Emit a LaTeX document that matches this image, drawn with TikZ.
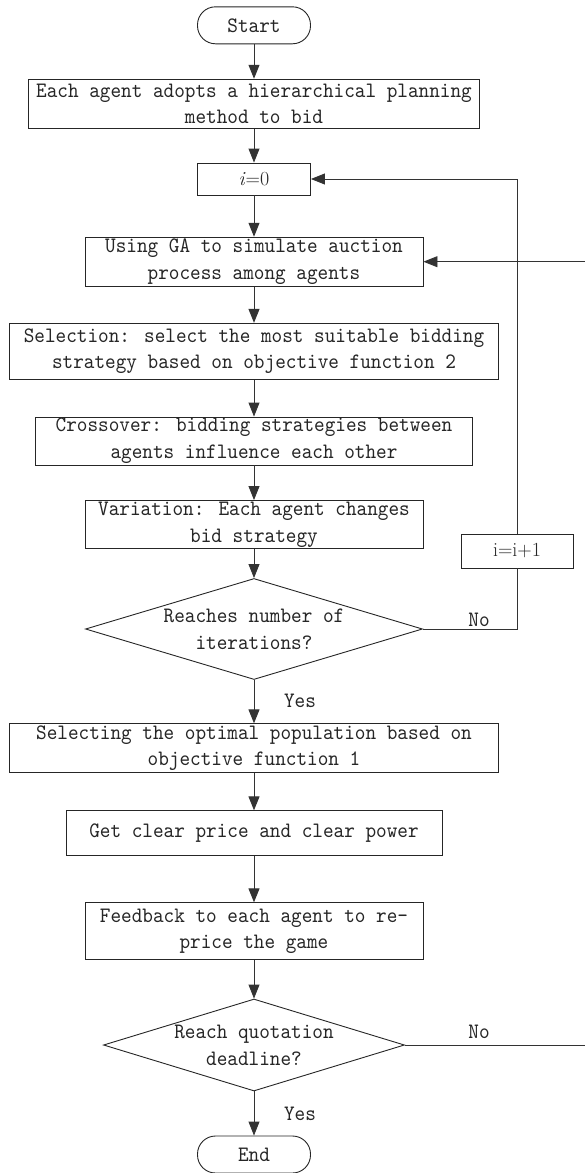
\documentclass[tikz,border=0pt]{standalone}
\usepackage{fontspec}
\usetikzlibrary{arrows.meta,shapes.geometric}

% narrow monospaced face for all box texts
\newfontfamily\boxfont{lmmono10-regular.otf}[FakeStretch=0.92]

\tikzset{
  base/.style={draw=black!85, line width=0.9pt, fill=white, text=black!85,
    font=\boxfont\fontsize{22}{26.7}\selectfont, align=center, inner sep=0pt},
  proc/.style={base, rectangle},
  term/.style={base, rectangle, rounded corners=18pt},
  decision/.style={base, diamond, inner sep=-10pt},
  counter/.style={proc, font=\rmfamily\fontsize{20}{24}\selectfont},
  flow/.style={draw=black!80, line width=0.9pt, -{Triangle[length=14pt,width=11pt]}},
  link/.style={draw=black!80, line width=0.9pt},
  tag/.style={text=black!85, inner sep=0pt, font=\boxfont\fontsize{22}{24}\selectfont}
}

\begin{document}
\begin{tikzpicture}[x=1pt, y=-1pt]
  \useasboundingbox (0,0) rectangle (585,1173);

  % main column
  \node[term, minimum width=113pt, minimum height=37pt] (start) at (254,25.3) {Start};
  \node[proc, minimum width=451pt, minimum height=49pt] (b1) at (254,103.7)
    {Each agent adopts a hierarchical planning\\method to bid};
  \node[counter, minimum width=113pt, minimum height=32pt] (i0) at (254,179) {\textit{i}=0};
  \node[proc, minimum width=338pt, minimum height=49pt] (ga) at (254,261.7)
    {Using GA to simulate auction\\process among agents};
  \node[proc, minimum width=489pt, minimum height=56pt] (sel) at (254,351.3)
    {Selection: select the most suitable bidding\\strategy based on objective function 2};
  \node[proc, minimum width=437pt, minimum height=48pt] (cross) at (254,441)
    {Crossover: bidding strategies between\\agents influence each other};
  \node[proc, minimum width=338pt, minimum height=48pt] (var) at (254,524.5)
    {Variation: Each agent changes\\bid strategy};
  \node[decision, aspect=3.34, minimum width=337pt, minimum height=101pt] (d1) at (254,629)
    {Reaches number of\\iterations?};
  \node[proc, minimum width=489pt, minimum height=49pt] (opt) at (254,748.3)
    {Selecting the optimal population based on\\objective function 1};
  \node[proc, minimum width=376pt, minimum height=45pt] (clr) at (254,833.3)
    {Get clear price and clear power};
  \node[proc, minimum width=338pt, minimum height=57pt] (fb) at (254,931.3)
    {Feedback to each agent to re-\\price the game};
  \node[decision, aspect=3.27, minimum width=301pt, minimum height=92pt] (d2) at (254,1045)
    {Reach quotation\\deadline?};
  \node[term, minimum width=113pt, minimum height=37pt] (end) at (254,1154.5) {End};

  % iteration counter on the inner loop
  \node[counter, minimum width=112pt, minimum height=34pt] (inc) at (517,551) {i=i+1};

  % branch labels
  \node[tag] (no1) at (479,620) {No};
  \node[tag] (yes1) at (300,701) {Yes};
  \node[tag] (no2) at (479,1031.7) {No};
  \node[tag] (yes2) at (300,1114) {Yes};

  % main flow
  \draw[flow] (start) -- (b1);
  \draw[flow] (b1) -- (i0);
  \draw[flow] (i0) -- (ga);
  \draw[flow] (ga) -- (sel);
  \draw[flow] (sel) -- (cross);
  \draw[flow] (cross) -- (var);
  \draw[flow] (var) -- (d1);
  \draw[flow] (d1) -- (opt);
  \draw[flow] (opt) -- (clr);
  \draw[flow] (clr) -- (fb);
  \draw[flow] (fb) -- (d2);
  \draw[flow] (d2) -- (end);

  % inner loop: next iteration
  \draw[link] (d1.east) -| (inc.south);
  \draw[flow] (inc.north) |- (i0.east);

  % outer loop: re-run the auction, routed along the right margin
  \coordinate (rail) at (592,0);
  \draw[flow] (d2.east) -- (d2.east -| rail) -- (ga.east -| rail) -- (ga.east);
\end{tikzpicture}
\end{document}
